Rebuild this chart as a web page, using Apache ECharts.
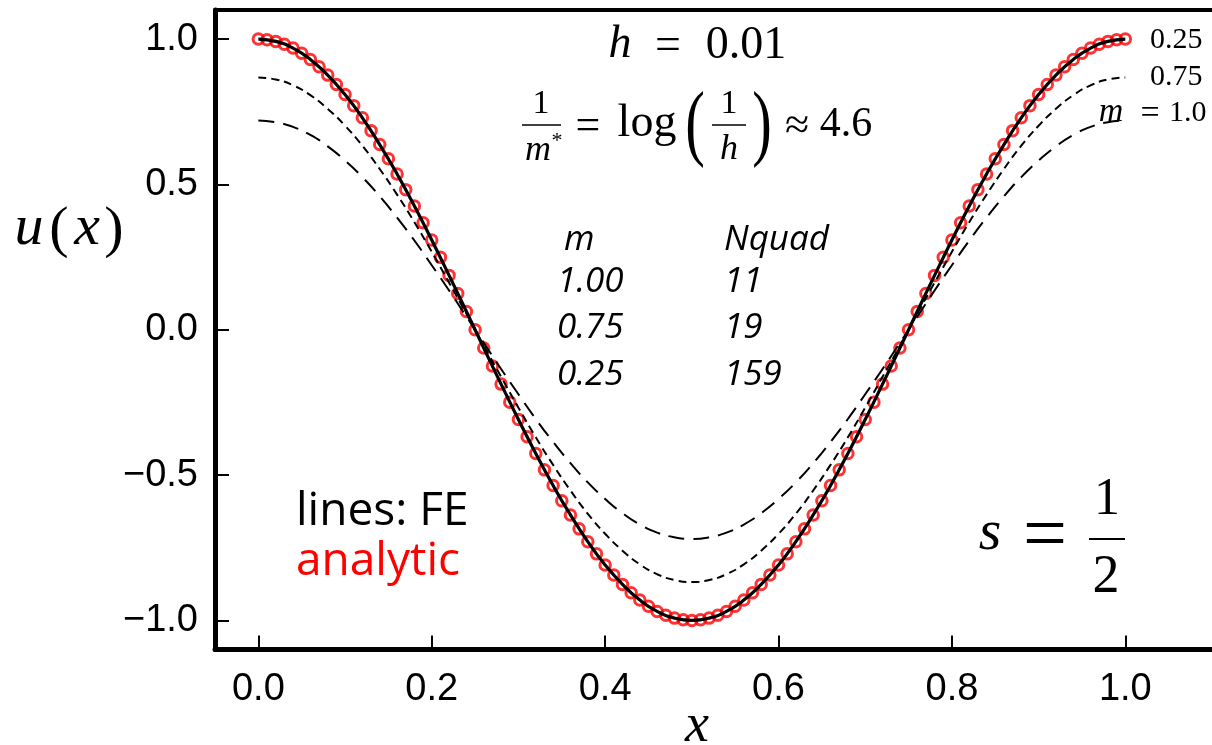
<!DOCTYPE html>
<html>
<head>
<meta charset="utf-8">
<script src="https://cdn.jsdelivr.net/npm/echarts@6/dist/echarts.min.js"></script>
<style>
  html, body { margin: 0; padding: 0; background: #fff; }
  #chart { width: 1212px; height: 745px; }
</style>
</head>
<body>
<div id="chart"></div>
<script>
// Sample positions of the analytic solution
const xFine = [0.00,0.01,0.02,0.03,0.04,0.05,0.06,0.07,0.08,0.09,
  0.10,0.11,0.12,0.13,0.14,0.15,0.16,0.17,0.18,0.19,
  0.20,0.21,0.22,0.23,0.24,0.25,0.26,0.27,0.28,0.29,
  0.30,0.31,0.32,0.33,0.34,0.35,0.36,0.37,0.38,0.39,
  0.40,0.41,0.42,0.43,0.44,0.45,0.46,0.47,0.48,0.49,
  0.50,0.51,0.52,0.53,0.54,0.55,0.56,0.57,0.58,0.59,
  0.60,0.61,0.62,0.63,0.64,0.65,0.66,0.67,0.68,0.69,
  0.70,0.71,0.72,0.73,0.74,0.75,0.76,0.77,0.78,0.79,
  0.80,0.81,0.82,0.83,0.84,0.85,0.86,0.87,0.88,0.89,
  0.90,0.91,0.92,0.93,0.94,0.95,0.96,0.97,0.98,0.99,1.00];

// Analytic u(x)
const uAnalytic = [1.000,0.998,0.992,0.982,0.969,0.951,0.930,0.905,0.876,0.844,
  0.809,0.771,0.729,0.685,0.637,0.588,0.536,0.482,0.426,0.368,
  0.309,0.249,0.187,0.125,0.063,0.000,-0.063,-0.125,-0.187,-0.249,
  -0.309,-0.368,-0.426,-0.482,-0.536,-0.588,-0.637,-0.685,-0.729,-0.771,
  -0.809,-0.844,-0.876,-0.905,-0.930,-0.951,-0.969,-0.982,-0.992,-0.998,
  -1.000,-0.998,-0.992,-0.982,-0.969,-0.951,-0.930,-0.905,-0.876,-0.844,
  -0.809,-0.771,-0.729,-0.685,-0.637,-0.588,-0.536,-0.482,-0.426,-0.368,
  -0.309,-0.249,-0.187,-0.125,-0.063,0.000,0.063,0.125,0.187,0.249,
  0.309,0.368,0.426,0.482,0.536,0.588,0.637,0.685,0.729,0.771,
  0.809,0.844,0.876,0.905,0.930,0.951,0.969,0.982,0.992,0.998,1.000];

// Nodes of the finite-element solutions
const xFE = [0.00,0.02,0.04,0.06,0.08,0.10,0.12,0.14,0.16,0.18,
  0.20,0.22,0.24,0.26,0.28,0.30,0.32,0.34,0.36,0.38,
  0.40,0.42,0.44,0.46,0.48,0.50,0.52,0.54,0.56,0.58,
  0.60,0.62,0.64,0.66,0.68,0.70,0.72,0.74,0.76,0.78,
  0.80,0.82,0.84,0.86,0.88,0.90,0.92,0.94,0.96,0.98,1.00];

// FE solution, m = 0.25
const uFE025 = [1.000,0.992,0.969,0.930,0.876,0.809,0.729,0.637,0.536,0.426,
  0.309,0.187,0.063,-0.063,-0.187,-0.309,-0.426,-0.536,-0.637,-0.729,
  -0.809,-0.876,-0.930,-0.969,-0.992,-1.000,-0.992,-0.969,-0.930,-0.876,
  -0.809,-0.729,-0.637,-0.536,-0.426,-0.309,-0.187,-0.063,0.063,0.187,
  0.309,0.426,0.536,0.637,0.729,0.809,0.876,0.930,0.969,0.992,1.000];

// FE solution, m = 0.75
const uFE075 = [0.868,0.861,0.841,0.807,0.760,0.702,0.633,0.553,0.465,0.370,
  0.268,0.162,0.055,-0.055,-0.162,-0.268,-0.370,-0.465,-0.553,-0.633,
  -0.702,-0.760,-0.807,-0.841,-0.861,-0.868,-0.861,-0.841,-0.807,-0.760,
  -0.702,-0.633,-0.553,-0.465,-0.370,-0.268,-0.162,-0.055,0.055,0.162,
  0.268,0.370,0.465,0.553,0.633,0.702,0.760,0.807,0.841,0.861,0.868];

// FE solution, m = 1.0
const uFE100 = [0.720,0.714,0.698,0.670,0.631,0.582,0.525,0.459,0.386,0.307,
  0.222,0.135,0.045,-0.045,-0.135,-0.222,-0.307,-0.386,-0.459,-0.525,
  -0.582,-0.631,-0.670,-0.698,-0.714,-0.720,-0.714,-0.698,-0.670,-0.631,
  -0.582,-0.525,-0.459,-0.386,-0.307,-0.222,-0.135,-0.045,0.045,0.135,
  0.222,0.307,0.386,0.459,0.525,0.582,0.631,0.670,0.698,0.714,0.720];

// Tick positions
const xTicks = [0.0, 0.2, 0.4, 0.6, 0.8, 1.0];
const yTicks = [-1.0, -0.5, 0.0, 0.5, 1.0];

const zip = (xs, ys) => xs.map((x, i) => [x, ys[i]]);

const SERIF = '"Liberation Serif", "DejaVu Serif", serif';
const TICKFONT = '"Liberation Sans", "DejaVu Sans", sans-serif';
const NOTEFONT = '"Open Sans", "Noto Sans", sans-serif';

function fmtTick(v) {
  const s = Math.abs(v).toFixed(1);
  return v < -1e-9 ? '\u2212' + s : s;
}

function txt(x, y, text, size, opts) {
  opts = opts || {};
  return {
    type: 'text', x: x, y: y, z: 100,
    scaleX: opts.scaleX || 1,
    style: {
      text: text,
      fontSize: size,
      fontFamily: opts.family || SERIF,
      fontStyle: opts.italic ? 'italic' : 'normal',
      fill: opts.color || '#000',
      align: opts.align || 'center',
      verticalAlign: 'middle'
    }
  };
}
function bar(x1, x2, y, w) {
  return { type: 'line', z: 100, shape: { x1: x1, y1: y, x2: x2, y2: y },
           style: { stroke: '#000', lineWidth: w || 1.6 } };
}
const it = { italic: true };

const graphics = [
  // y-axis name u(x)
  txt(29, 229, 'u', 58, it),
  txt(59, 231, '(', 58),
  txt(87, 229, 'x', 58, it),
  txt(114, 231, ')', 58),
  // x-axis name
  txt(697, 727, 'x', 54, it),
  // h = 0.01
  txt(620, 45, 'h', 46, it),
  txt(668, 47, '=', 46),
  txt(746, 46, '0.01', 46),
  // 1/m* = log(1/h) ≈ 4.6
  txt(541, 104, '1', 34),
  bar(522, 561, 125),
  txt(538, 151, 'm', 36, it),
  txt(557, 141, '*', 22),
  txt(588, 127, '=', 44),
  txt(647, 124, 'log', 46),
  txt(695, 128, '(', 84, { scaleX: 0.7 }),
  txt(729, 104, '1', 34),
  bar(712, 746, 125),
  txt(729, 150, 'h', 36, it),
  txt(762, 128, ')', 84, { scaleX: 0.7 }),
  txt(797, 127, '\u2248', 44),
  txt(846, 125, '4.6', 42),
  // quadrature table
  txt(564, 240, 'm', 35, { family: NOTEFONT, italic: true, align: 'left' }),
  txt(724, 240, 'Nquad', 35, { family: NOTEFONT, italic: true, align: 'left' }),
  txt(557, 282, '1.00', 35, { family: NOTEFONT, italic: true, align: 'left' }),
  txt(724, 282, '11', 35, { family: NOTEFONT, italic: true, align: 'left' }),
  txt(557, 328, '0.75', 35, { family: NOTEFONT, italic: true, align: 'left' }),
  txt(724, 328, '19', 35, { family: NOTEFONT, italic: true, align: 'left' }),
  txt(557, 375, '0.25', 35, { family: NOTEFONT, italic: true, align: 'left' }),
  txt(724, 375, '159', 35, { family: NOTEFONT, italic: true, align: 'left' }),
  // legend notes
  txt(296, 512, 'lines: FE', 46, { family: NOTEFONT, align: 'left' }),
  txt(296, 562, 'analytic', 46, { family: NOTEFONT, align: 'left', color: '#ff0000' }),
  // s = 1/2
  txt(990, 534, 's', 58, it),
  txt(1045, 539, '=', 78),
  txt(1107, 500, '1', 52),
  bar(1089, 1125, 539, 2.2),
  txt(1106, 578, '2', 54),
  // curve labels
  txt(1150, 40, '0.25', 30, { align: 'left' }),
  txt(1150, 77, '0.75', 30, { align: 'left' }),
  txt(1111, 112, 'm', 34, it),
  txt(1150, 114, '=', 34),
  txt(1169, 113, '1.0', 30, { align: 'left' })
];

const chart = echarts.init(document.getElementById('chart'), null, { renderer: 'canvas' });
chart.setOption({
  backgroundColor: '#ffffff',
  animation: false,
  grid: { left: 215, top: 10, width: 1006, height: 639.5, containLabel: false },
  xAxis: [{
    type: 'value', min: -0.05, max: 1.1, position: 'bottom',
    axisLine: { onZero: false, lineStyle: { color: '#000', width: 5 } },
    axisTick: { inside: true, length: 14, customValues: xTicks, lineStyle: { color: '#000', width: 2 } },
    axisLabel: { customValues: xTicks, formatter: fmtTick, margin: 21, fontFamily: TICKFONT, fontSize: 38, color: '#000' },
    splitLine: { show: false }
  }, {
    type: 'value', min: -0.05, max: 1.1, position: 'top',
    axisLine: { onZero: false, lineStyle: { color: '#000', width: 4 } },
    axisTick: { show: false }, axisLabel: { show: false }, splitLine: { show: false }
  }],
  yAxis: [{
    type: 'value', min: -1.1, max: 1.1, position: 'left',
    axisLine: { show: true, onZero: false, lineStyle: { color: '#000', width: 5 } },
    axisTick: { show: true, inside: true, length: 14, customValues: yTicks, lineStyle: { color: '#000', width: 2 } },
    axisLabel: { customValues: yTicks, formatter: fmtTick, margin: 17, fontFamily: TICKFONT, fontSize: 38, color: '#000' },
    splitLine: { show: false }
  }],
  series: [{
    name: 'analytic', type: 'scatter', data: zip(xFine, uAnalytic),
    symbol: 'circle', symbolSize: 10.5, z: 2,
    itemStyle: { color: 'rgba(0,0,0,0)', borderColor: '#ff0000', borderWidth: 3 }
  }, {
    name: 'FE m=1.0', type: 'line', data: zip(xFE, uFE100), smooth: true, showSymbol: false, z: 3,
    lineStyle: { color: '#000', width: 2, type: [16, 9] }
  }, {
    name: 'FE m=0.75', type: 'line', data: zip(xFE, uFE075), smooth: true, showSymbol: false, z: 3,
    lineStyle: { color: '#000', width: 2, type: [8, 5] }
  }, {
    name: 'FE m=0.25', type: 'line', data: zip(xFE, uFE025), smooth: true, showSymbol: false, z: 4,
    lineStyle: { color: '#000', width: 3.2 }
  }],
  graphic: graphics
});
</script>
</body>
</html>
